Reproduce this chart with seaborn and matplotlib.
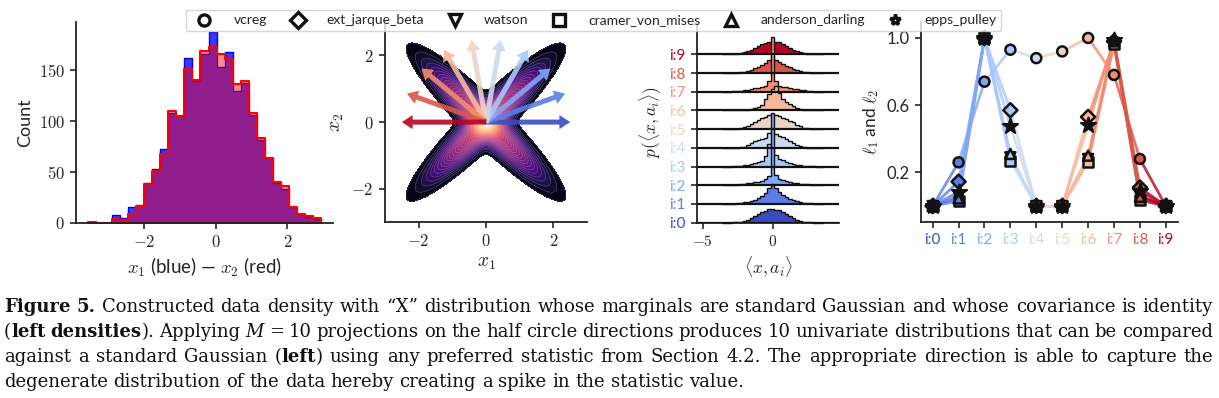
import numpy as np
import pandas as pd
import matplotlib
matplotlib.use("Agg")
import matplotlib.pyplot as plt
from matplotlib.colors import PowerNorm
from matplotlib.lines import Line2D
from matplotlib.ticker import FuncFormatter
import seaborn as sns

# ---- left: marginal histograms (counts) ----
hist_start = -3.58
hist_width = 0.225
x1_counts = [1, 0, 0, 8, 5, 15, 17, 39, 53, 72, 108, 105, 162, 139, 166,
             188, 153, 168, 130, 137, 106, 81, 64, 39, 33, 15, 9, 6, 4]
x2_counts = [1, 0, 0, 4, 3, 9, 16, 38, 51, 68, 110, 105, 151, 140, 169,
             173, 166, 161, 136, 139, 108, 83, 64, 40, 36, 15, 9, 7, 5]

# ---- "X" density: two correlated gaussian arms ----
arm_rho = [0.93, -0.93]
arm_weight = [0.5, 0.5]

n_dirs = 10
dir_labels = [f"i:{i}" for i in range(n_dirs)]
arrow_len = 2.5

# ---- projected densities, bins of 0.25 centred on -3.5 ... 3.5 (row heights) ----
ridge_step = 0.25
proj_0 = [0, 0, 0.01, 0.02, 0.03, 0.06, 0.10, 0.16, 0.25, 0.35, 0.46, 0.58, 0.65, 0.72, 0.74,
          0.70, 0.67, 0.55, 0.44, 0.35, 0.24, 0.16, 0.10, 0.06, 0.03, 0.02, 0.01, 0, 0]
proj_1 = [0, 0, 0.01, 0.02, 0.03, 0.05, 0.08, 0.12, 0.17, 0.24, 0.32, 0.44, 0.60, 0.85, 1.07,
          0.88, 0.64, 0.47, 0.36, 0.27, 0.20, 0.14, 0.10, 0.07, 0.05, 0.03, 0.02, 0.01, 0]
proj_2 = [0, 0, 0.01, 0.02, 0.04, 0.06, 0.08, 0.10, 0.13, 0.16, 0.20, 0.25, 0.32, 0.50, 3.85,
          0.55, 0.34, 0.26, 0.21, 0.17, 0.14, 0.11, 0.09, 0.07, 0.05, 0.03, 0.02, 0.01, 0]
proj_3 = [0, 0, 0, 0.01, 0.02, 0.04, 0.06, 0.09, 0.12, 0.17, 0.22, 0.32, 0.55, 1.20, 1.00,
          0.62, 0.42, 0.33, 0.26, 0.20, 0.15, 0.11, 0.08, 0.05, 0.03, 0.02, 0.01, 0, 0]
proj_4 = [0, 0, 0, 0, 0.01, 0.03, 0.07, 0.13, 0.25, 0.38, 0.44, 0.46, 0.55, 0.80, 0.95,
          0.72, 0.62, 0.58, 0.50, 0.38, 0.25, 0.14, 0.08, 0.04, 0.02, 0.01, 0, 0, 0]
proj_5 = [0, 0, 0.01, 0.02, 0.03, 0.06, 0.10, 0.18, 0.30, 0.38, 0.48, 0.58, 0.66, 0.74, 0.80,
          0.76, 0.68, 0.62, 0.55, 0.45, 0.36, 0.25, 0.15, 0.08, 0.04, 0.02, 0.01, 0, 0]
proj_6 = [0, 0, 0, 0, 0, 0.01, 0.02, 0.04, 0.07, 0.12, 0.18, 0.30, 0.62, 0.90, 1.15,
          1.30, 0.95, 0.62, 0.45, 0.33, 0.22, 0.14, 0.08, 0.04, 0.02, 0.01, 0, 0, 0]
proj_7 = [0, 0, 0.01, 0.02, 0.04, 0.06, 0.09, 0.12, 0.15, 0.18, 0.22, 0.27, 0.32, 0.55, 2.95,
          0.55, 0.33, 0.27, 0.23, 0.19, 0.16, 0.13, 0.10, 0.07, 0.04, 0.02, 0.01, 0, 0]
proj_8 = [0, 0, 0.01, 0.02, 0.03, 0.05, 0.08, 0.12, 0.17, 0.25, 0.34, 0.45, 0.56, 0.72, 0.90,
          0.70, 0.58, 0.50, 0.40, 0.30, 0.22, 0.16, 0.11, 0.07, 0.04, 0.02, 0.01, 0, 0]
proj_9 = [0, 0, 0.01, 0.02, 0.04, 0.06, 0.10, 0.16, 0.24, 0.33, 0.44, 0.55, 0.62, 0.66, 0.70,
          0.68, 0.64, 0.58, 0.46, 0.36, 0.25, 0.17, 0.11, 0.06, 0.03, 0.02, 0.01, 0, 0]
ridge_rows = [proj_0, proj_1, proj_2, proj_3, proj_4, proj_5, proj_6, proj_7, proj_8, proj_9]

# ---- right: normalised statistic per direction ----
stat_names = ["vcreg", "ext_jarque_beta", "watson", "cramer_von_mises",
              "anderson_darling", "epps_pulley"]
stat_markers = ["o", "D", "v", "s", "^", "*"]
vcreg = [0.0, 0.26, 0.74, 0.93, 0.88, 0.92, 1.0, 0.78, 0.28, 0.0]
ext_jarque_beta = [0.0, 0.145, 1.0, 0.57, 0.0, 0.0, 0.53, 0.98, 0.11, 0.0]
watson = [0.0, 0.06, 1.0, 0.29, 0.0, 0.0, 0.28, 0.97, 0.06, 0.0]
cramer_von_mises = [0.0, 0.03, 1.0, 0.27, 0.0, 0.0, 0.26, 0.965, 0.035, 0.0]
anderson_darling = [0.0, 0.045, 1.0, 0.31, 0.0, 0.0, 0.30, 0.98, 0.055, 0.0]
epps_pulley = [0.0, 0.085, 1.0, 0.475, 0.0, 0.0, 0.48, 0.99, 0.09, 0.0]
stat_values = [vcreg, ext_jarque_beta, watson, cramer_von_mises, anderson_darling, epps_pulley]

caption_lines = [
    [("Figure 5.", "b"), (" Constructed data density with \u201cX\u201d distribution whose marginals "
                          "are standard Gaussian and whose covariance is identity", "r")],
    [("(", "r"), ("left densities", "b"), ("). Applying ", "r"), ("M", "i"),
     (" = 10 projections on the half circle directions produces 10 univariate distributions "
      "that can be compared", "r")],
    [("against a standard Gaussian (", "r"), ("left", "b"),
     (") using any preferred statistic from Section 4.2. The appropriate direction is able "
      "to capture the", "r")],
    [("degenerate distribution of the data hereby creating a spike in the statistic value.", "r")],
]

sns.set_theme(style="ticks")
plt.rcParams["font.family"] = ["Lato", "DejaVu Sans"]
plt.rcParams["mathtext.fontset"] = "cm"
plt.rcParams["axes.linewidth"] = 1.3
plt.rcParams["axes.edgecolor"] = "#222222"

W, H = 1219, 398
fig = plt.figure(figsize=(W / 100, H / 100), dpi=100)


def px_axes(left, right, top, bottom):
    return fig.add_axes([left / W, 1 - bottom / H, (right - left) / W, (bottom - top) / H])


math_fmt = FuncFormatter(lambda v, p: f"${v:g}$")
colors = plt.cm.coolwarm(np.linspace(0, 1, n_dirs))

# panel 1: histograms
ax1 = px_axes(76, 333, 22, 222.7)
edges = [hist_start + hist_width * k for k in range(len(x1_counts) + 1)]
centers = [e + hist_width / 2 for e in edges[:-1]]
hist_df = pd.DataFrame({"x": centers, "x1": x1_counts, "x2": x2_counts})
sns.histplot(data=hist_df, x="x", weights="x1", bins=edges, element="step",
             color="blue", alpha=0.78, linewidth=1.0, ax=ax1)
sns.histplot(data=hist_df, x="x", weights="x2", bins=edges, element="step",
             color="red", alpha=0.45, linewidth=1.5, ax=ax1)
ax1.set_xticks([-2, 0, 2])
ax1.set_yticks([0, 50, 100, 150])
ax1.xaxis.set_major_formatter(math_fmt)
ax1.yaxis.set_major_formatter(math_fmt)
ax1.set_ylabel("Count", fontsize=13)
ax1.set_xlabel("$x_1$ (blue) \u2014 $x_2$ (red)", fontsize=13.5)

# panel 2: density with projection directions
ax2 = px_axes(385, 587, 22, 222.2)
g = np.linspace(-3, 3, 500)
gx, gy = np.meshgrid(g, g)
dens = np.zeros_like(gx)
for rho, w in zip(arm_rho, arm_weight):
    det = 1 - rho ** 2
    q = (gx ** 2 - 2 * rho * gx * gy + gy ** 2) / det
    dens += w * np.exp(-q / 2) / (2 * np.pi * np.sqrt(det))
levels = np.linspace(0.03 * dens.max(), dens.max(), 40)
ax2.contourf(gx, gy, dens, levels=levels, cmap="magma",
             norm=PowerNorm(0.75, vmin=levels[0], vmax=levels[-1]))
ax2.contour(gx, gy, dens, levels=levels, colors="white", linewidths=0.35, alpha=0.3)
for i in range(n_dirs):
    ang = np.pi * i / (n_dirs - 1)
    ax2.arrow(0, 0, arrow_len * np.cos(ang), arrow_len * np.sin(ang), width=0.15,
              head_width=0.42, head_length=0.32, length_includes_head=True,
              color=colors[i], alpha=0.9, zorder=3, linewidth=0)
ax2.set_xlim(-3, 3)
ax2.set_ylim(-3, 3)
ax2.set_xticks([-2, 0, 2])
ax2.set_yticks([-2, 0, 2])
ax2.xaxis.set_major_formatter(math_fmt)
ax2.yaxis.set_major_formatter(math_fmt)
ax2.set_xlabel(r"$x_1$", fontsize=14)
ax2.set_ylabel(r"$x_2$", fontsize=14)

# panel 3: ridge of projected histograms (upper rows first, lower rows drawn over them)
ax3 = px_axes(697, 839, 22, 222.7)
n_bins = len(proj_0)
redges = ridge_step * (np.arange(n_bins + 1) - n_bins / 2)
rcenters = redges[:-1] + ridge_step / 2
for k in range(n_dirs - 1, -1, -1):
    z = 3 + 0.1 * (n_dirs - k)
    ax3.bar(rcenters, ridge_rows[k], width=ridge_step, bottom=k, color=colors[k],
            linewidth=0, zorder=z, clip_on=False)
    ax3.stairs(np.array(ridge_rows[k]) + k, redges, baseline=k, fill=False,
               color="#111111", linewidth=1.0, zorder=z + 0.05, clip_on=False)
for k in range(n_dirs):
    ax3.axhline(k, color="#111111", linewidth=1.6, zorder=5)
ax3.set_xlim(-5.4, 4.75)
ax3.set_ylim(0, 10.73)
ax3.set_xticks([-5, 0])
ax3.xaxis.set_major_formatter(math_fmt)
ax3.set_yticks(range(n_dirs))
ax3.set_yticklabels(dir_labels, fontsize=11)
for lbl, c in zip(ax3.get_yticklabels(), colors):
    lbl.set_color(c)
ax3.set_xlabel(r"$\langle x, a_i\rangle$", fontsize=12.5)
ax3.set_ylabel(r"$p(\langle x, a_i\rangle)$", fontsize=12.5)

# panel 4: statistic per direction
ax4 = px_axes(921, 1178, 22, 222)
idx = np.arange(n_dirs)
for vals in stat_values:
    for k in range(n_dirs - 1):
        ax4.plot(idx[k:k + 2], vals[k:k + 2], color=colors[k + 1], linewidth=2.0,
                 alpha=0.8, zorder=2)
pal = dict(zip(dir_labels, colors))
for name, marker, vals in zip(stat_names, stat_markers, stat_values):
    if marker == "*":
        sns.scatterplot(x=idx, y=vals, color="#111111", marker=marker, s=130,
                        edgecolor="#111111", linewidth=1.5, legend=False, ax=ax4, zorder=3)
    else:
        sns.scatterplot(x=idx, y=vals, hue=dir_labels, palette=pal, marker=marker, s=52,
                        edgecolor="#111111", linewidth=1.8, legend=False, ax=ax4, zorder=3)
ax4.set_xlim(-0.45, 9.47)
ax4.set_ylim(-0.095, 1.095)
ax4.set_xticks(idx)
ax4.set_xticklabels(dir_labels, fontsize=11)
for lbl, c in zip(ax4.get_xticklabels(), colors):
    lbl.set_color(c)
ax4.set_yticks([0.2, 0.6, 1.0])
ax4.set_yticklabels(["0.2", "0.6", "1.0"])
ax4.set_ylabel(r"$\ell_1$ and $\ell_2$", fontsize=12.5)

for ax in (ax1, ax2, ax3, ax4):
    ax.tick_params(length=4.5, width=1.2, labelsize=11 if ax is ax3 else 12)
    sns.despine(ax=ax)
ax4.tick_params(axis="x", labelsize=11)

# legend across the top
handles = [Line2D([], [], marker=m, linestyle="none", markersize=8, markerfacecolor="white",
                  markeredgecolor="#111111", markeredgewidth=2.4) for m in stat_markers]
fig.legend(handles, stat_names, loc="center", bbox_to_anchor=(593.5 / W, 1 - 20.5 / H),
           ncol=6, fontsize=10, handletextpad=1.1, columnspacing=1.2, borderpad=0.35,
           framealpha=0.8, edgecolor="#cccccc")

# caption, justified across the page width
renderer = fig.canvas.get_renderer()
cap_font = "DejaVu Serif"
cap_styles = {"r": {}, "b": {"weight": "bold"}, "i": {"style": "italic"}}


def split_words(segments):
    words = [[]]
    for text, sty in segments:
        for j, part in enumerate(text.split(" ")):
            if j > 0:
                words.append([])
            if part:
                words[-1].append((part, sty))
    return [w for w in words if w]


def text_width(s, size, sty):
    t = fig.text(0, 0, s, fontsize=size, family=cap_font, **cap_styles[sty])
    wd = t.get_window_extent(renderer).width
    t.remove()
    return wd


cap_left, cap_right = 4, 1213
base_size = 12
first = split_words(caption_lines[0])
nat = sum(text_width(p, base_size, s) for w in first for p, s in w)
space = text_width("a a", base_size, "r") - text_width("aa", base_size, "r")
nat += space * (len(first) - 1)
cap_size = base_size * (cap_right - cap_left - 15) / nat

for row, segs in enumerate(caption_lines):
    words = split_words(segs)
    y = 312 + 25 * row
    widths = [[text_width(p, cap_size, s) for p, s in w] for w in words]
    total = sum(sum(ws) for ws in widths)
    if row < len(caption_lines) - 1:
        gap = (cap_right - cap_left - total) / (len(words) - 1)
    else:
        gap = space * cap_size / base_size
    x = cap_left
    for w, ws in zip(words, widths):
        for (p, s), wd in zip(w, ws):
            fig.text(x / W, 1 - y / H, p, fontsize=cap_size, family=cap_font,
                     va="baseline", ha="left", color="#111111", **cap_styles[s])
            x += wd
        x += gap

fig.savefig("out.png", dpi=100)
